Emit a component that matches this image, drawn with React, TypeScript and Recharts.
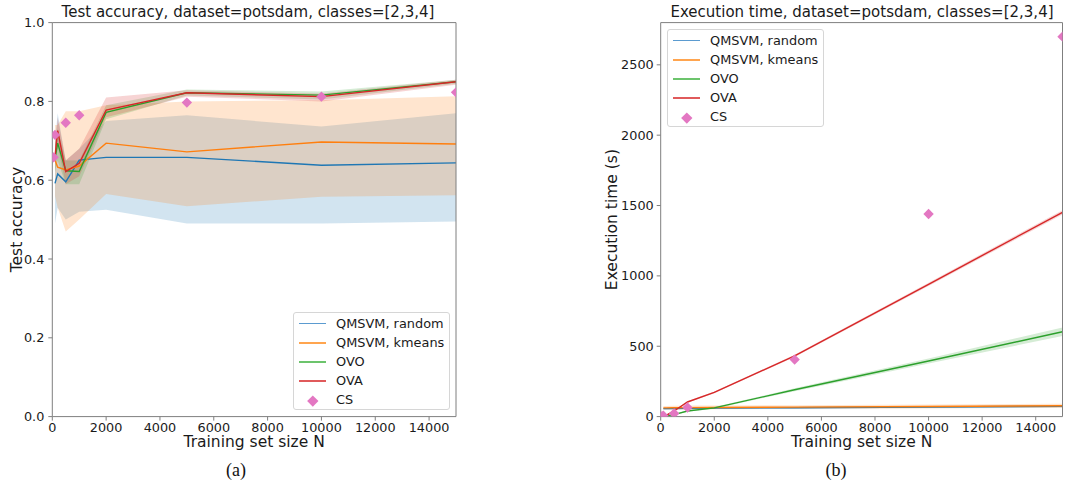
import React from 'react';
import { ComposedChart, Line, Area, Scatter, XAxis, YAxis, Legend, ReferenceLine } from 'recharts';

// ---------- data ----------
const trainSizes = [100, 200, 500, 1000, 2000, 5000, 10000, 15000];

// test accuracy (panel a)
const accRandom = [0.592, 0.616, 0.596, 0.651, 0.658, 0.658, 0.638, 0.644];
const accRandomLow = [0.49, 0.53, 0.5, 0.52, 0.525, 0.49, 0.49, 0.495];
const accRandomHigh = [0.7, 0.77, 0.65, 0.68, 0.75, 0.765, 0.736, 0.77];

const accKmeans = [0.651, 0.633, 0.626, 0.636, 0.694, 0.672, 0.697, 0.692];
const accKmeansLow = [0.56, 0.53, 0.47, 0.5, 0.565, 0.534, 0.558, 0.562];
const accKmeansHigh = [0.74, 0.74, 0.775, 0.775, 0.79, 0.8, 0.803, 0.813];

const accOvo = [0.655, 0.694, 0.624, 0.622, 0.772, 0.822, 0.816, 0.85];
const accOvoLow = [0.62, 0.65, 0.59, 0.59, 0.755, 0.815, 0.805, 0.845];
const accOvoHigh = [0.69, 0.73, 0.65, 0.65, 0.79, 0.83, 0.825, 0.855];

const accOva = [0.66, 0.726, 0.622, 0.643, 0.778, 0.822, 0.812, 0.85];
const accOvaLow = [0.63, 0.69, 0.59, 0.61, 0.76, 0.812, 0.8, 0.842];
const accOvaHigh = [0.69, 0.76, 0.65, 0.68, 0.81, 0.828, 0.82, 0.855];

// execution time in seconds (panel b)
const timeRandom = [57, 57, 58, 59, 60, 63, 68, 73];
const timeRandomLow = [51, 51, 52, 53, 54, 57, 61, 65];
const timeRandomHigh = [63, 63, 64, 65, 66, 69, 75, 81];

const timeKmeans = [62, 62, 63, 64, 65, 67, 72, 77];
const timeKmeansLow = [49, 49, 50, 51, 52, 54, 58, 62];
const timeKmeansHigh = [76, 76, 77, 78, 79, 81, 86, 92];

const timeOvo = [2, 5, 14, 40, 62, 191, 395, 603];
const timeOvoLow = [1, 3, 11, 35, 56, 181, 377, 573];
const timeOvoHigh = [3, 7, 17, 45, 68, 201, 413, 633];

const timeOva = [3, 8, 40, 104, 172, 431, 940, 1452];
const timeOvaLow = [2, 7, 37, 99, 166, 423, 928, 1437];
const timeOvaHigh = [4, 9, 43, 109, 178, 439, 952, 1467];

// CS (Crammer-Singer)
const csSizes = [50, 100, 500, 1000, 5000, 10000, 15000];
const csAcc = [0.658, 0.715, 0.746, 0.765, 0.797, 0.812, 0.823];
const csTime = [3, 6, 22, 65, 405, 1440, 2700];

const xTicks = [0, 2000, 4000, 6000, 8000, 10000, 12000, 14000];
const accTicks = [0, 0.2, 0.4, 0.6, 0.8, 1.0];
const timeTicks = [0, 500, 1000, 1500, 2000, 2500];

const seriesNames = ['QMSVM, random', 'QMSVM, kmeans', 'OVO', 'OVA', 'CS'];
const COLORS = ['#1f77b4', '#ff7f0e', '#2ca02c', '#d62728', '#e377c2'];
const LEGEND_COLORS = ['#5b9bd0', '#ffa54f', '#6cc46c', '#e05a5b', '#e377c2'];

// ---------- tables ----------
const accRows = trainSizes.map((n, i) => ({
  N: n,
  random: accRandom[i],
  randomBand: [accRandomLow[i], accRandomHigh[i]],
  kmeans: accKmeans[i],
  kmeansBand: [accKmeansLow[i], accKmeansHigh[i]],
  ovo: accOvo[i],
  ovoBand: [accOvoLow[i], accOvoHigh[i]],
  ova: accOva[i],
  ovaBand: [accOvaLow[i], accOvaHigh[i]],
}));
const timeRows = trainSizes.map((n, i) => ({
  N: n,
  random: timeRandom[i],
  randomBand: [timeRandomLow[i], timeRandomHigh[i]],
  kmeans: timeKmeans[i],
  kmeansBand: [timeKmeansLow[i], timeKmeansHigh[i]],
  ovo: timeOvo[i],
  ovoBand: [timeOvoLow[i], timeOvoHigh[i]],
  ova: timeOva[i],
  ovaBand: [timeOvaLow[i], timeOvaHigh[i]],
}));
const csAccRows = csSizes.map((n, i) => ({ N: n, cs: csAcc[i] }));
const csTimeRows = csSizes.map((n, i) => ({ N: n, cs: csTime[i] }));

const FONT = '"DejaVu Sans", sans-serif';
const AXIS = '#7f7f7f';
const TEXT = '#1a1a1a';
const TICK_FONT = 12.8;
const X_MAX = 15000;

const Diamond = (props: any) => {
  const { cx, cy } = props;
  if (cx == null || cy == null) return null;
  const r = 5.2;
  return (
    <polygon
      points={`${cx},${cy - r} ${cx + r},${cy} ${cx},${cy + r} ${cx - r},${cy}`}
      fill={COLORS[4]}
    />
  );
};

const LegendBox = () => (
  <div
    style={{
      width: 157,
      height: 98,
      boxSizing: 'border-box',
      border: '1px solid #d6d6d6',
      borderRadius: 3,
      background: 'rgba(255,255,255,0.85)',
      position: 'relative',
      fontFamily: FONT,
      fontSize: 12.9,
      color: TEXT,
    }}
  >
    {seriesNames.map((name, i) => {
      const cy = 10.6 + i * 19.2;
      return (
        <div key={name}>
          {i < 4 ? (
            <div
              style={{
                position: 'absolute',
                left: 5,
                width: 27,
                top: cy - 0.75,
                height: 1.5,
                background: LEGEND_COLORS[i],
              }}
            />
          ) : (
            <div
              style={{
                position: 'absolute',
                left: 18.5 - 3.8,
                top: cy - 3.8,
                width: 7.6,
                height: 7.6,
                background: COLORS[4],
                transform: 'rotate(45deg)',
              }}
            />
          )}
          <div
            style={{
              position: 'absolute',
              left: 42,
              top: cy - 8,
              height: 16,
              lineHeight: '16px',
              whiteSpace: 'nowrap',
            }}
          >
            {name}
          </div>
        </div>
      );
    })}
  </div>
);

type PanelProps = {
  rows: any[];
  csRows: any[];
  left: number;
  width: number;
  yAxisWidth: number;
  marginRight: number;
  yDomain: [number, number];
  yTicks: number[];
  yLabel: string;
  yLabelOffset: number;
  yTickFormat: (v: number) => string;
  yTickMargin: number;
  legendLeft: number;
  legendTop: number;
};

const Panel = (p: PanelProps) => {
  const bandKeys = ['randomBand', 'kmeansBand', 'ovoBand', 'ovaBand'];
  const lineKeys = ['random', 'kmeans', 'ovo', 'ova'];
  return (
    <div style={{ position: 'absolute', left: p.left, top: 0 }}>
      <ComposedChart
        width={p.width}
        height={460}
        data={p.rows}
        margin={{ top: 22.6, right: p.marginRight, bottom: 0, left: 0 }}
      >
        <XAxis
          dataKey="N"
          type="number"
          domain={[0, X_MAX]}
          ticks={xTicks}
          allowDataOverflow
          height={43.4}
          tickSize={4}
          tickMargin={2}
          stroke={AXIS}
          tick={{ fill: TEXT, fontSize: TICK_FONT, fontFamily: FONT }}
          label={{
            value: 'Training set size N',
            position: 'insideBottom',
            offset: 13,
            style: { fill: TEXT, fontSize: 15.5, fontFamily: FONT },
          }}
        />
        <YAxis
          type="number"
          domain={p.yDomain}
          ticks={p.yTicks}
          allowDataOverflow
          width={p.yAxisWidth}
          tickSize={4}
          tickMargin={p.yTickMargin}
          stroke={AXIS}
          tickFormatter={p.yTickFormat}
          tick={{ fill: TEXT, fontSize: TICK_FONT, fontFamily: FONT }}
          label={{
            value: p.yLabel,
            angle: -90,
            position: 'insideLeft',
            offset: p.yLabelOffset,
            style: { textAnchor: 'middle', fill: TEXT, fontSize: 15.5, fontFamily: FONT },
          }}
        />
        {lineKeys.map((k, i) => (
          <Area
            key={bandKeys[i]}
            dataKey={bandKeys[i]}
            type="linear"
            stroke="none"
            fill={COLORS[i]}
            fillOpacity={0.2}
            isAnimationActive={false}
            dot={false}
            activeDot={false}
            legendType="none"
          />
        ))}
        {lineKeys.map((k, i) => (
          <Line
            key={k}
            dataKey={k}
            name={seriesNames[i]}
            type="linear"
            stroke={COLORS[i]}
            strokeWidth={1.4}
            dot={false}
            activeDot={false}
            isAnimationActive={false}
          />
        ))}
        <Scatter
          data={p.csRows}
          dataKey="cs"
          name="CS"
          fill={COLORS[4]}
          shape={Diamond}
          isAnimationActive={false}
        />
        <ReferenceLine y={p.yDomain[1]} stroke={AXIS} strokeWidth={1} ifOverflow="visible" />
        <ReferenceLine x={X_MAX} stroke={AXIS} strokeWidth={1} ifOverflow="visible" />
        <Legend
          layout="horizontal"
          verticalAlign="middle"
          align="center"
          content={() => <LegendBox />}
          wrapperStyle={{ left: p.legendLeft, top: p.legendTop, width: 157, height: 98 }}
        />
      </ComposedChart>
    </div>
  );
};

const titleStyle = (cx: number): React.CSSProperties => ({
  position: 'absolute',
  left: cx - 250,
  width: 500,
  top: 5,
  textAlign: 'center',
  fontFamily: FONT,
  fontSize: 15,
  lineHeight: '15px',
  color: TEXT,
  whiteSpace: 'nowrap',
});

const captionStyle = (cx: number): React.CSSProperties => ({
  position: 'absolute',
  left: cx - 30,
  width: 60,
  top: 461,
  textAlign: 'center',
  fontFamily: '"Liberation Serif", serif',
  fontSize: 18,
  lineHeight: '18px',
  color: '#111',
});

export default function App() {
  return (
    <div
      style={{
        position: 'absolute',
        left: 0,
        top: 0,
        width: 1065,
        height: 485,
        background: '#fff',
        overflow: 'hidden',
      }}
    >
      <Panel
        rows={accRows}
        csRows={csAccRows}
        left={0}
        width={465}
        yAxisWidth={52.3}
        marginRight={9}
        yDomain={[0, 1]}
        yTicks={accTicks}
        yLabel="Test accuracy"
        yLabelOffset={17}
        yTickFormat={(v) => v.toFixed(1)}
        yTickMargin={4}
        legendLeft={293}
        legendTop={312}
      />
      <Panel
        rows={timeRows}
        csRows={csTimeRows}
        left={560}
        width={505}
        yAxisWidth={100.7}
        marginRight={2.5}
        yDomain={[0, 2800]}
        yTicks={timeTicks}
        yLabel="Execution time (s)"
        yLabelOffset={51.7}
        yTickFormat={(v) => String(v)}
        yTickMargin={3}
        legendLeft={107}
        legendTop={29}
      />
      <div style={titleStyle(248)}>Test accuracy, dataset=potsdam, classes=[2,3,4]</div>
      <div style={titleStyle(862)}>Execution time, dataset=potsdam, classes=[2,3,4]</div>
      <div style={captionStyle(236)}>(a)</div>
      <div style={captionStyle(836)}>(b)</div>
    </div>
  );
}
